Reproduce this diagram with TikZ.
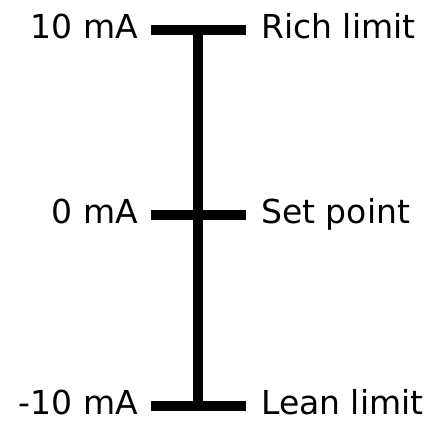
\documentclass[tikz,border=0pt]{standalone}
\usepackage{fontspec}
\setmainfont{DejaVu Sans}
\usetikzlibrary{positioning}
\tikzset{
myBar/.style={line width=10.5pt, line cap=butt}
, myLeft/.style={anchor=base east, inner sep=0pt, font=\fontsize{33}{38}\selectfont}
, myRight/.style={anchor=base west, inner sep=0pt, font=\fontsize{33}{38}\selectfont}
}
\begin{document}
\begin{tikzpicture}[x=1pt,y=1pt]
	\useasboundingbox (0,0) rectangle (431,423);
	% ticks
	\coordinate (RichL) at (151,393);
	\coordinate (RichR) at (246,393);
	\coordinate (SetL) at (151,208);
	\coordinate (SetR) at (246,208);
	\coordinate (LeanL) at (151,17);
	\coordinate (LeanR) at (246,17);
	\coordinate (Top) at (198,393);
	\coordinate (Bottom) at (198,17);
	% labels
	\node[myLeft] (mRich) at ([xshift=-13pt,yshift=-8.5pt]RichL) {10 mA};
	\node[myLeft] (mSet) at ([xshift=-13pt,yshift=-8.5pt]SetL) {0 mA};
	\node[myLeft] (mLean) at ([xshift=-13pt,yshift=-8.5pt]LeanL) {-10 mA};
	\node[myRight] (Rich) at ([xshift=15pt,yshift=-8.5pt]RichR) {Rich limit};
	\node[myRight] (Set) at ([xshift=15pt,yshift=-8.5pt]SetR) {Set point};
	\node[myRight] (Lean) at ([xshift=15pt,yshift=-8.5pt]LeanR) {Lean limit};
	% scale
	\draw[myBar] (Top) -- (Bottom);
	\draw[myBar] (RichL) -- (RichR);
	\draw[myBar] (SetL) -- (SetR);
	\draw[myBar] (LeanL) -- (LeanR);
\end{tikzpicture}
\end{document}
